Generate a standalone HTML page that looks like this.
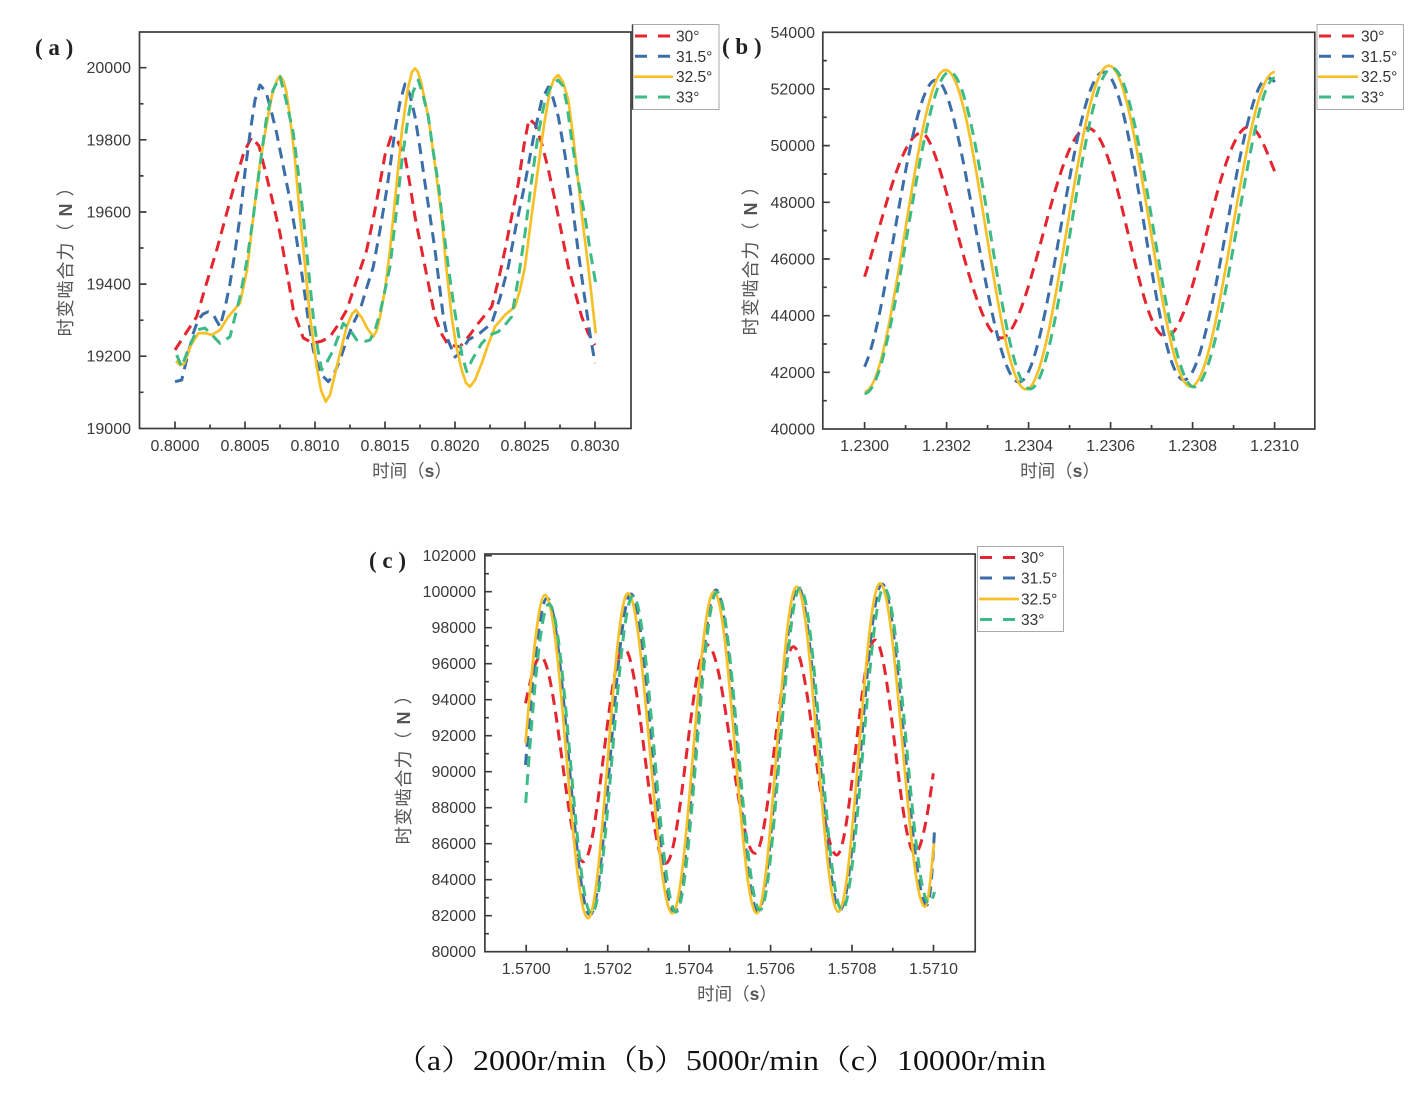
<!DOCTYPE html>
<html><head><meta charset="utf-8"><style>
html,body{margin:0;padding:0;background:#fff;}
svg{display:block;}
.tk{font-family:"Liberation Sans",sans-serif;font-size:16px;fill:#3a3a3a;}
.ttl{font-family:"Liberation Sans","Noto Sans CJK SC",sans-serif;font-size:17.5px;fill:#555;}
.yt{font-family:"Liberation Sans","Noto Sans CJK SC",sans-serif;font-size:18px;fill:#555;letter-spacing:1px;}
.lg{font-family:"Liberation Sans",sans-serif;font-size:15.5px;fill:#333;}
.lab{font-family:"Liberation Serif","Noto Serif CJK SC",serif;font-size:23px;font-weight:bold;fill:#222;}
.ax{fill:none;stroke:#3c3c3c;stroke-width:1.7;}
.r{fill:none;stroke:#e5252f;stroke-width:3;stroke-dasharray:11 7;stroke-linejoin:round;}
.b{fill:none;stroke:#3b6ea8;stroke-width:3;stroke-dasharray:11 7;stroke-linejoin:round;}
.y{fill:none;stroke:#f6c026;stroke-width:2.7;stroke-linejoin:round;}
.g{fill:none;stroke:#3dbb86;stroke-width:3;stroke-dasharray:11 7;stroke-linejoin:round;}
</style></head><body>
<svg width="1423" height="1093" viewBox="0 0 1423 1093" xmlns="http://www.w3.org/2000/svg">
<rect width="1423" height="1093" fill="#fff"/>

<!-- ================= (a) ================= -->
<text class="lab" x="35" y="55" xml:space="preserve">( a )</text>
<rect class="ax" x="139.5" y="32" width="491.5" height="396.5"/>
<path class="ax" d="M175,428.5v-7M245,428.5v-7M315,428.5v-7M385,428.5v-7M455,428.5v-7M525,428.5v-7M595,428.5v-7
M210,428.5v-4M280,428.5v-4M350,428.5v-4M420,428.5v-4M490,428.5v-4M560,428.5v-4
M139.5,356.2h7M139.5,284.1h7M139.5,212h7M139.5,139.8h7M139.5,67.7h7
M139.5,392.3h4M139.5,320.2h4M139.5,248h4M139.5,175.9h4M139.5,103.8h4"/>
<g class="tk" text-anchor="end">
<text x="131" y="433.8">19000</text><text x="131" y="361.7">19200</text><text x="131" y="289.6">19400</text>
<text x="131" y="217.5">19600</text><text x="131" y="145.3">19800</text><text x="131" y="73.2">20000</text>
</g>
<g class="tk" text-anchor="middle">
<text x="175" y="451">0.8000</text><text x="245" y="451">0.8005</text><text x="315" y="451">0.8010</text>
<text x="385" y="451">0.8015</text><text x="455" y="451">0.8020</text><text x="525" y="451">0.8025</text><text x="595" y="451">0.8030</text>
</g>
<text class="yt" text-anchor="middle" transform="translate(72,257) rotate(-90)" xml:space="preserve">时变啮合力（ <tspan font-weight="bold">N</tspan> ）</text>
<text class="ttl" x="412" y="477" text-anchor="middle">时间（<tspan font-weight="bold">s</tspan>）</text>

<path class="r" d="M175,350 L186,333 L196.7,316.7 L206,285 L216.7,250 L227,212 L236.7,176.7 L244,152 L251.7,137.3 L259,146 L266.7,176.7 L273,203 L280,233.3 L287,272 L293.3,310 L303.3,338 L313.3,343.3 L322,341 L330,336.7 L338,325 L346.7,310 L356,282 L366.7,250 L374,215 L380,183 L385,155 L391,137 L398,142 L405,156.7 L410,185 L415,216.7 L425,266.7 L435,316.7 L441,333 L448.3,345 L460,346.7 L469,336 L478.3,323.3 L491.7,306.7 L498,282 L505,250 L512,215 L518.3,183.3 L524,145 L529,119 L535,124 L541.7,143.3 L548,168 L555,200 L562,235 L568.3,266.7 L575,292 L581.7,316.7 L588,333 L595,345"/>

<path class="b" d="M175,381.7 L181.7,380 L187,358 L193.3,333.3 L198,320 L203,314 L208.3,311.7 L214,316 L220,326.7 L225,308 L230,283.3 L235,252 L240,216.7 L245,172 L250,133.3 L255,100 L260,85 L266,92 L271,110 L276.7,133.3 L283,165 L290,200 L297,242 L303.3,283.3 L308,318 L313.3,350 L320,373 L328.3,381.7 L334,374 L340,360 L346,342 L353.3,323.3 L360,310 L366,290 L373.3,266.7 L380,230 L386.7,190 L391,160 L395,130 L400,102 L405,84 L410,95 L415,116.7 L420,148 L425,183.3 L430,216 L435,250 L440,290 L443.3,316.7 L448,340 L455,357 L461,352 L468.3,340 L480,333 L491.7,323.3 L500,298 L508.3,266.7 L516,226 L525,183.3 L533,140 L541.7,100 L548.3,87 L553,98 L558.3,116.7 L565,155 L571.7,200 L578,250 L585,300 L590,334 L595,363.3"/>

<path class="y" d="M176,361 L180,365 L184,364 L191,345 L198.3,333.3 L205,333 L211.7,335 L220,330 L228.3,316.7 L240,303 L247,270 L253.3,216.7 L259,170 L265,133 L272,95 L277,80 L280,76 L283,80 L286,90 L290,116.7 L295,160 L300,216.7 L305,265 L310,316.7 L316.7,366.7 L321,390 L325.7,401.7 L330,395 L336.7,366.7 L346.7,326.7 L352,314 L356,310 L362,318 L367,328 L373.3,336.7 L377,330 L380,316.7 L385,290 L390,250 L396,190 L402,130 L408,88 L412,72 L415,68.3 L418,72 L421,82 L428.3,116.7 L435,165 L441.7,216.7 L446,265 L451.7,316.7 L456,345 L461.7,370 L466,383 L470,386.7 L475,380 L481.7,363.3 L488,345 L495,326.7 L505,315 L515,306.7 L520,290 L525,266.7 L531,220 L538.3,166.7 L544,125 L550,90 L554,79 L558.3,75 L563,82 L568.3,100 L573,135 L578.3,183 L583,225 L588.3,266.7 L592,300 L595.7,333.3"/>

<path class="g" d="M176.7,355 L181.7,366.7 L188,350 L196.7,330 L205,328 L212,335 L220,343.3 L230,336.7 L240,296.7 L247,260 L253.3,216.7 L260,165 L266.7,116.7 L273,90 L280,76.7 L286,100 L293.3,133.3 L298,170 L303.3,216.7 L308,265 L313.3,316.7 L318,350 L321.7,370 L327,362 L333.3,350 L343.3,323.3 L350,330 L356.7,340 L363,342 L370,340 L375,330 L380,313.3 L385,290 L390,266.7 L396,215 L402,160 L408.3,116.7 L413,92 L418.3,80 L423,95 L428.3,116.7 L433,150 L438.3,183.3 L443,225 L448.3,266.7 L453,300 L458.3,333.3 L462,355 L466.7,371.7 L472,360 L481.7,343.3 L490,335 L498.3,331.7 L505,325 L511.7,316.7 L518,280 L525,233.3 L531,185 L538.3,133.3 L545,100 L552,84 L558,80 L563,86 L567,105 L571.7,140 L578,180 L585,216.7 L590,250 L595.7,283.3"/>

<rect x="632.5" y="24.5" width="86.5" height="85" fill="#fff" stroke="#aaa" stroke-width="1"/>
<line x1="632.5" y1="24.5" x2="632.5" y2="109.5" stroke="#444" stroke-width="1.5"/>
<line x1="635" y1="36" x2="672" y2="36" stroke="#e5252f" stroke-width="3" stroke-dasharray="12 11"/>
<line x1="635" y1="56.3" x2="672" y2="56.3" stroke="#3b6ea8" stroke-width="3" stroke-dasharray="12 11"/>
<line x1="634" y1="76.7" x2="673" y2="76.7" stroke="#f6c026" stroke-width="2.7"/>
<line x1="635" y1="97" x2="672" y2="97" stroke="#3dbb86" stroke-width="3" stroke-dasharray="12 11"/>
<g class="lg"><text x="676" y="41.5">30°</text><text x="676" y="61.8">31.5°</text><text x="676" y="82.2">32.5°</text><text x="676" y="102.5">33°</text></g>

<!-- ================= (b) ================= -->
<text class="lab" x="722" y="54" xml:space="preserve">( b )</text>
<rect class="ax" x="822.8" y="32.3" width="492" height="396.7"/>
<path class="ax" d="M864.6,429v-7M946.6,429v-7M1028.6,429v-7M1110.6,429v-7M1192.6,429v-7M1274.6,429v-7
M905.6,429v-4M987.6,429v-4M1069.6,429v-4M1151.6,429v-4M1233.6,429v-4
M822.8,372.3h7M822.8,315.7h7M822.8,259h7M822.8,202.3h7M822.8,145.6h7M822.8,89h7
M822.8,400.7h4M822.8,344h4M822.8,287.3h4M822.8,230.6h4M822.8,174h4M822.8,117.3h4M822.8,60.6h4"/>
<g class="tk" text-anchor="end">
<text x="815" y="434.5">40000</text><text x="815" y="377.8">42000</text><text x="815" y="321.2">44000</text>
<text x="815" y="264.5">46000</text><text x="815" y="207.8">48000</text><text x="815" y="151.1">50000</text>
<text x="815" y="94.5">52000</text><text x="815" y="37.8">54000</text>
</g>
<g class="tk" text-anchor="middle">
<text x="864.6" y="451">1.2300</text><text x="946.6" y="451">1.2302</text><text x="1028.6" y="451">1.2304</text>
<text x="1110.6" y="451">1.2306</text><text x="1192.6" y="451">1.2308</text><text x="1274.6" y="451">1.2310</text>
</g>
<text class="yt" text-anchor="middle" transform="translate(757,256) rotate(-90)" xml:space="preserve">时变啮合力（ <tspan font-weight="bold">N</tspan> ）</text>
<text class="ttl" x="1060" y="477" text-anchor="middle">时间（<tspan font-weight="bold">s</tspan>）</text>

<path class="r" d="M864.6,276.7 C883.6,217.7 901.5,133 921.5,133 S972.4,338 1001,338 S1056.4,128 1087.5,128 S1137.7,336.7 1166,336.7 S1219,126.7 1249,126.7 C1258,126.7 1266,150 1274.8,171.7"/>
<path class="b" d="M864.6,366.7 C888.6,315 910,80 936,80 S989.5,382 1019,382 S1073,72 1103.5,72 S1155,380 1184,380 S1240,78 1268,78 C1271,78 1273,80 1274.8,82"/>
<path class="y" d="M864.6,391.5 C893.8,391.5 916.4,70 945.6,70 S997,389.3 1026,389.3 S1079,65.7 1108.8,65.7 S1161.2,386.7 1190.7,386.7 S1244.6,72 1274.8,72"/>
<path class="g" d="M864.6,393.5 C895,393.5 920,72 949.5,72 S1001,389 1030,389 S1082.5,68 1112,68 S1165,387 1194,387 S1250,78 1274.8,78"/>

<rect x="1317" y="24.5" width="86.5" height="85" fill="#fff" stroke="#aaa" stroke-width="1"/>
<line x1="1319" y1="36" x2="1357" y2="36" stroke="#e5252f" stroke-width="3" stroke-dasharray="12 11"/>
<line x1="1319" y1="56.3" x2="1357" y2="56.3" stroke="#3b6ea8" stroke-width="3" stroke-dasharray="12 11"/>
<line x1="1318" y1="76.7" x2="1358" y2="76.7" stroke="#f6c026" stroke-width="2.7"/>
<line x1="1319" y1="97" x2="1357" y2="97" stroke="#3dbb86" stroke-width="3" stroke-dasharray="12 11"/>
<g class="lg"><text x="1361" y="41.5">30°</text><text x="1361" y="61.8">31.5°</text><text x="1361" y="82.2">32.5°</text><text x="1361" y="102.5">33°</text></g>

<!-- ================= (c) ================= -->
<text class="lab" x="369" y="568" xml:space="preserve">( c )</text>
<rect class="ax" x="484.9" y="554" width="490.3" height="397.7"/>
<path class="ax" d="M526.2,951.7v-7M607.7,951.7v-7M689.1,951.7v-7M770.6,951.7v-7M852,951.7v-7M933.5,951.7v-7
M567,951.7v-4M648.4,951.7v-4M729.9,951.7v-4M811.3,951.7v-4M892.8,951.7v-4
M484.9,915.7h7M484.9,879.7h7M484.9,843.7h7M484.9,807.7h7M484.9,771.7h7M484.9,735.7h7M484.9,699.7h7M484.9,663.7h7M484.9,627.7h7M484.9,591.7h7M484.9,555.7h7
M484.9,933.7h4M484.9,897.7h4M484.9,861.7h4M484.9,825.7h4M484.9,789.7h4M484.9,753.7h4M484.9,717.7h4M484.9,681.7h4M484.9,645.7h4M484.9,609.7h4M484.9,573.7h4"/>
<g class="tk" text-anchor="end">
<text x="476" y="957.2">80000</text><text x="476" y="921.2">82000</text><text x="476" y="885.2">84000</text>
<text x="476" y="849.2">86000</text><text x="476" y="813.2">88000</text><text x="476" y="777.2">90000</text>
<text x="476" y="741.2">92000</text><text x="476" y="705.2">94000</text><text x="476" y="669.2">96000</text>
<text x="476" y="633.2">98000</text><text x="476" y="597.2">100000</text><text x="476" y="561.2">102000</text>
</g>
<g class="tk" text-anchor="middle">
<text x="526.2" y="974">1.5700</text><text x="607.7" y="974">1.5702</text><text x="689.1" y="974">1.5704</text>
<text x="770.6" y="974">1.5706</text><text x="852" y="974">1.5708</text><text x="933.5" y="974">1.5710</text>
</g>
<text class="yt" text-anchor="middle" transform="translate(410,765) rotate(-90)" xml:space="preserve">时变啮合力（ <tspan font-weight="bold">N</tspan> ）</text>
<text class="ttl" x="737" y="1000" text-anchor="middle">时间（<tspan font-weight="bold">s</tspan>）</text>

<path class="r" d="M525.5,703.3 C530.5,680 535.5,656.7 540.7,656.7 C556,656.7 568,861.7 583.3,861.7 C598,861.7 609.3,648.3 624,648.3 C639,648.3 650.7,863.3 665.7,863.3 C680.7,863.3 692.3,645 707.3,645 C724.5,645 737.8,853.3 755,853.3 C768.8,853.3 779.5,646.7 793.3,646.7 C808.9,646.7 821.1,855 836.7,855 C850.5,855 861.2,640 875,640 C889.4,640 900.6,853.3 915,853.3 C921,853.3 928,815 933.3,773.3"/>
<path class="b" d="M525.5,765 C532.5,678 540,598 547,598 C562.5,598 574.5,915 590,915 C604.8,915 616.2,594 631,594 C646.5,594 658.5,912 674,912 C689.1,912 700.9,590 716,590 C731.1,590 742.9,911 758,911 C772.4,911 783.6,587 798,587 C813.1,587 824.9,910 840,910 C855.1,910 866.9,584 882,584 C898.2,584 910.8,905 927,905 C930,905 932.5,870 934.5,830"/>
<path class="y" d="M525.5,743.3 C532,666 538.5,595 545,595 C560.5,595 572.5,918.3 588,918.3 C602.4,918.3 613.6,593.3 628,593.3 C643.9,593.3 656.4,913.3 672.3,913.3 C687.3,913.3 699,591.7 714,591.7 C729.4,591.7 741.3,913.3 756.7,913.3 C771.1,913.3 782.3,586.7 796.7,586.7 C811.7,586.7 823.3,911.7 838.3,911.7 C853.3,911.7 865,583.3 880,583.3 C896.2,583.3 908.8,906.7 925,906.7 C928,906.7 931,875 934,843.3"/>
<path class="g" d="M525.7,803 C533.5,693.5 541.2,604 549,604 C564.3,604 576.2,914 591.5,914 C606.4,914 618.1,596 633,596 C648.5,596 660.5,912 676,912 C690.8,912 702.2,592 717,592 C732.5,592 744.5,910 760,910 C774.4,910 785.6,588 800,588 C815.1,588 826.9,910 842,910 C857.1,910 868.9,588 884,588 C900.2,588 912.8,903 929,903 C931,903 933,898 934.5,892"/>

<rect x="977.5" y="546.5" width="86" height="85" fill="#fff" stroke="#aaa" stroke-width="1"/>
<line x1="980" y1="557.5" x2="1018" y2="557.5" stroke="#e5252f" stroke-width="3" stroke-dasharray="12 11"/>
<line x1="980" y1="578" x2="1018" y2="578" stroke="#3b6ea8" stroke-width="3" stroke-dasharray="12 11"/>
<line x1="979" y1="599" x2="1019" y2="599" stroke="#f6c026" stroke-width="2.7"/>
<line x1="980" y1="619.5" x2="1018" y2="619.5" stroke="#3dbb86" stroke-width="3" stroke-dasharray="12 11"/>
<g class="lg"><text x="1021" y="563">30°</text><text x="1021" y="583.5">31.5°</text><text x="1021" y="604.5">32.5°</text><text x="1021" y="625">33°</text></g>

<!-- caption -->
<text x="395" y="1070" textLength="651" lengthAdjust="spacingAndGlyphs" style="font-family:'Liberation Serif','Noto Serif CJK SC',serif;font-size:29px;fill:#111;">（a）2000r/min（b）5000r/min（c）10000r/min</text>
</svg>
</body></html>
